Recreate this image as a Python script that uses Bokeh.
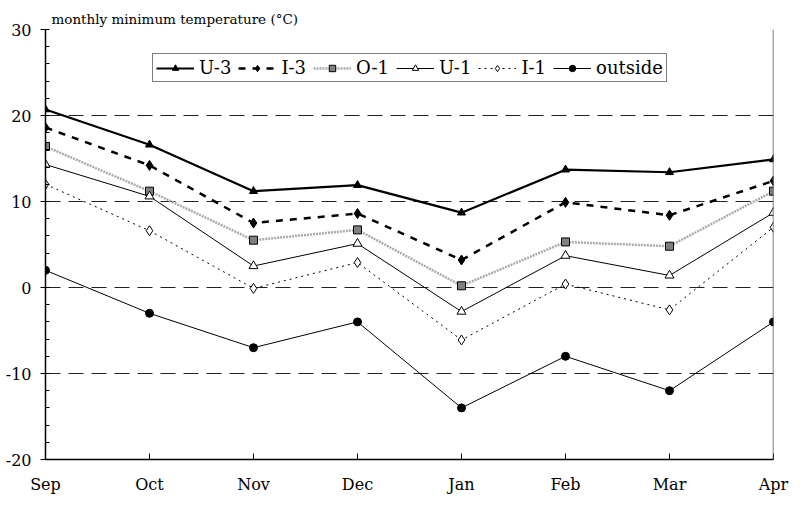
from bokeh.plotting import figure
from bokeh.models import Range1d, FixedTicker, Legend, Span
from bokeh.embed import file_html
from bokeh.resources import INLINE

months = ["Sep", "Oct", "Nov", "Dec", "Jan", "Feb", "Mar", "Apr"]
u3 = [20.7, 16.6, 11.2, 11.9, 8.7, 13.7, 13.4, 14.9]
i3 = [18.6, 14.2, 7.5, 8.6, 3.2, 9.9, 8.4, 12.4]
o1 = [16.4, 11.2, 5.5, 6.7, 0.2, 5.3, 4.8, 11.2]
u1 = [14.3, 10.6, 2.5, 5.1, -2.8, 3.7, 1.4, 8.7]
i1 = [12.0, 6.6, -0.1, 2.9, -6.1, 0.4, -2.6, 7.0]
outside = [2.0, -3.0, -7.0, -4.0, -14.0, -8.0, -12.0, -4.0]
y_ticks = [-20, -10, 0, 10, 20, 30]
y_tick_labels = ["-20", "-10", "0", "10", "20", "30"]

FONT = "DejaVu Serif"
x = list(range(len(months)))

p = figure(width=791, height=496, output_backend="svg", toolbar_location=None,
           x_range=Range1d(0, len(months) - 1), y_range=Range1d(-20, 30),
           min_border_left=45, min_border_right=18, min_border_top=29, min_border_bottom=36)
p.outline_line_color = None
p.background_fill_color = "white"

p.title.text = "monthly minimum temperature (\u00b0C)"
p.title.text_font = FONT
p.title.text_font_size = "13.5px"
p.title.text_font_style = "normal"
p.title.text_color = "black"
p.title.offset = 6
p.title.standoff = 6

# axes
xa = p.xaxis[0]
xa.ticker = FixedTicker(ticks=x)
xa.major_label_overrides = {i: m for i, m in enumerate(months)}
xa.major_tick_in = 6
xa.major_tick_out = 0
xa.minor_tick_line_color = None
xa.axis_line_color = "black"
xa.axis_line_width = 1.5
xa.major_tick_line_color = "black"
xa.major_label_text_font = FONT
xa.major_label_text_font_size = "16px"
xa.major_label_text_color = "black"
xa.major_label_standoff = 15

ya = p.yaxis[0]
ya.ticker = FixedTicker(ticks=y_ticks, minor_ticks=list(range(-20, 31, 2)))
ya.major_label_overrides = {t: s for t, s in zip(y_ticks, y_tick_labels)}
ya.major_tick_in = 0
ya.major_tick_out = 5
ya.minor_tick_in = 4
ya.minor_tick_out = 0
ya.axis_line_color = "black"
ya.axis_line_width = 1.5
ya.major_tick_line_color = "black"
ya.minor_tick_line_color = "black"
ya.major_label_text_font = FONT
ya.major_label_text_font_size = "16px"
ya.major_label_text_color = "black"
ya.major_label_standoff = 9

p.xgrid.grid_line_color = None
p.ygrid.ticker = FixedTicker(ticks=[-10, 0, 10, 20])
p.ygrid.grid_line_color = "#222222"
p.ygrid.grid_line_dash = "15 8"
p.ygrid.grid_line_width = 1

p.add_layout(Span(location=len(months) - 1, dimension="height", line_color="#555555", line_width=1.5))

series = [
    ("U-3", u3, dict(line_color="black", line_width=2.2), dict(marker="triangle", size=8, fill_color="black", line_color="black")),
    ("I-3", i3, dict(line_color="black", line_width=2.5, line_dash="7 7"), dict(marker="diamond", size=10, fill_color="black", line_color="black")),
    ("O-1", o1, dict(line_color="#aaaaaa", line_width=2.5, line_dash="2 1"), dict(marker="square", size=8, fill_color="#808080", line_color="black")),
    ("U-1", u1, dict(line_color="black", line_width=1), dict(marker="triangle", size=9, fill_color="white", line_color="black")),
    ("I-1", i1, dict(line_color="black", line_width=1, line_dash="2 4"), dict(marker="diamond", size=10, fill_color="white", line_color="black")),
    ("outside", outside, dict(line_color="black", line_width=1), dict(marker="circle", size=8, fill_color="black", line_color="black")),
]

items = []
for name, vals, lkw, mkw in series:
    r1 = p.line(x, vals, **lkw)
    r2 = p.scatter(x, vals, **mkw)
    items.append((name, [r1, r2]))

legend = Legend(items=items, orientation="horizontal", location=(107, 377))
legend.label_text_font = FONT
legend.label_text_font_size = "18px"
legend.label_text_color = "black"
legend.label_height = 18
legend.glyph_width = 38
legend.glyph_height = 16
legend.label_standoff = 5
legend.spacing = 7
legend.padding = 3
legend.margin = 0
legend.border_line_color = "black"
legend.border_line_width = 1
legend.background_fill_alpha = 1
p.add_layout(legend)

open("out.html", "w").write(file_html(p, INLINE))
